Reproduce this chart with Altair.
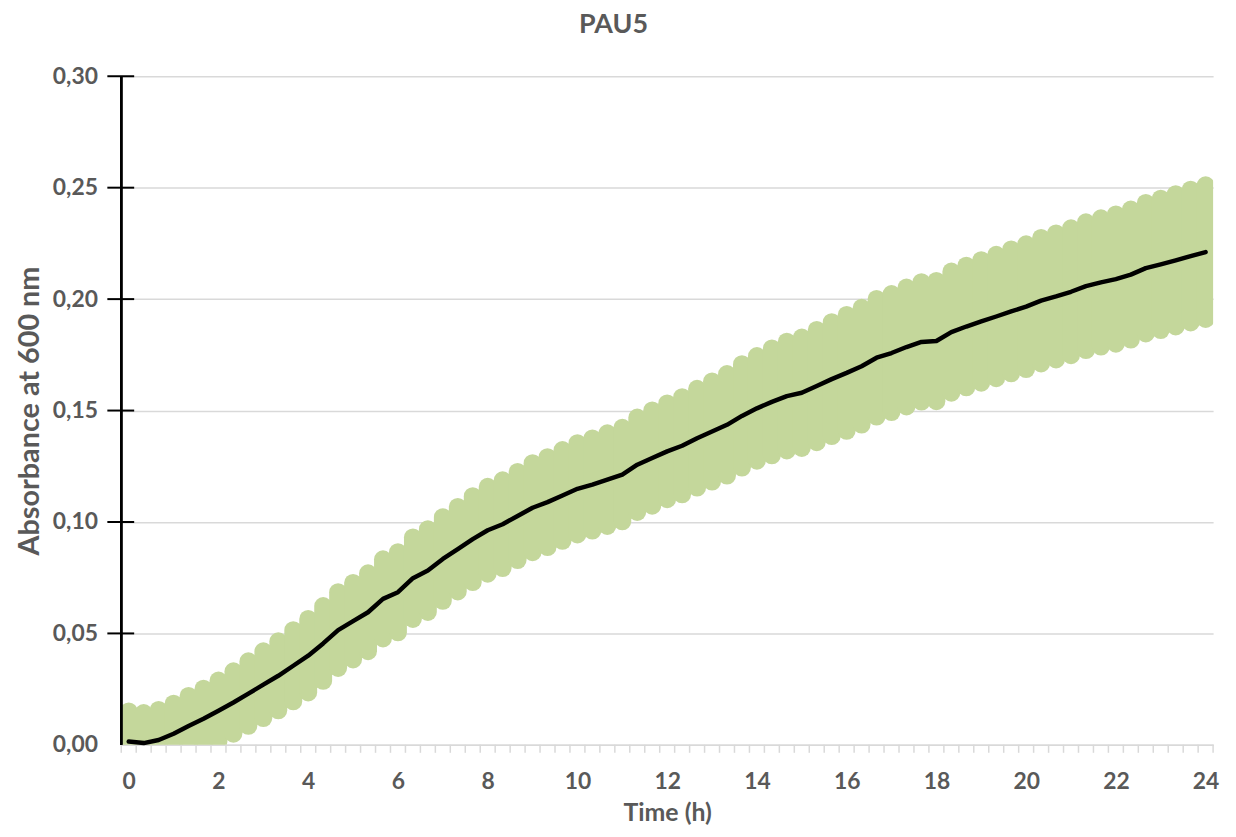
import altair as alt
import pandas as pd

# time points (minutes), 20-min interval readings
minutes = [0, 20, 40, 60, 80, 100, 120, 140, 160, 180, 200, 220, 240, 260, 280, 300,
           320, 340, 360, 380, 400, 420, 440, 460, 480, 500, 520, 540, 560, 580, 600,
           620, 640, 660, 680, 700, 720, 740, 760, 780, 800, 820, 840, 860, 880, 900,
           920, 940, 960, 980, 1000, 1020, 1040, 1060, 1080, 1100, 1120, 1140, 1160,
           1180, 1200, 1220, 1240, 1260, 1280, 1300, 1320, 1340, 1360, 1380, 1400,
           1420, 1440]

mean_abs = [0.0015, 0.0008, 0.0022, 0.0050, 0.0085, 0.0117, 0.0153, 0.0190, 0.0230,
            0.0270, 0.0310, 0.0355, 0.0400, 0.0455, 0.0515, 0.0555, 0.0595, 0.0655,
            0.0685, 0.0748, 0.0782, 0.0834, 0.0878, 0.0923, 0.0963, 0.0990, 0.1027,
            0.1064, 0.1089, 0.1119, 0.1149, 0.1168, 0.1190, 0.1213, 0.1257, 0.1287,
            0.1317, 0.1342, 0.1376, 0.1406, 0.1436, 0.1476, 0.1510, 0.1539, 0.1565,
            0.1580, 0.1610, 0.1641, 0.1669, 0.1699, 0.1737, 0.1758, 0.1785, 0.1808,
            0.1812, 0.1852, 0.1877, 0.1900, 0.1922, 0.1945, 0.1966, 0.1993, 0.2012,
            0.2033, 0.2058, 0.2075, 0.2090, 0.2110, 0.2139, 0.2156, 0.2174, 0.2193,
            0.2211]

sd_abs = [0.0135, 0.0135, 0.0135, 0.0135, 0.0135, 0.0135, 0.0136,
          0.0140, 0.0145, 0.0150, 0.0155, 0.0160, 0.0165,
          0.0168, 0.0170, 0.0172, 0.0175, 0.0178, 0.0180,
          0.0183, 0.0186, 0.0188, 0.0190, 0.0193, 0.0195,
          0.0197, 0.0198, 0.0200, 0.0202, 0.0204, 0.0205,
          0.0207, 0.0208, 0.0210, 0.0212, 0.0214, 0.0215,
          0.0218, 0.0222, 0.0225, 0.0228, 0.0232, 0.0235,
          0.0240, 0.0244, 0.0248, 0.0252, 0.0256, 0.0260,
          0.0262, 0.0264, 0.0265, 0.0267, 0.0268, 0.0270,
          0.0272, 0.0273, 0.0275, 0.0277, 0.0278, 0.0280,
          0.0282, 0.0283, 0.0285, 0.0287, 0.0288, 0.0290,
          0.0292, 0.0293, 0.0295, 0.0297, 0.0298, 0.0300]

y_ticks = [0.0, 0.05, 0.10, 0.15, 0.20, 0.25, 0.30]
y_tick_marks = [0.05, 0.10, 0.15, 0.20, 0.25, 0.30]
x_labels = [0, 2, 4, 6, 8, 10, 12, 14, 16, 18, 20, 22, 24]

df = pd.DataFrame({"t": [m / 60 for m in minutes], "mean": mean_abs, "sd": sd_abs})
df["lo"] = df["mean"] - df["sd"]
df["hi"] = df["mean"] + df["sd"]

# category boundaries (Excel category axis tick marks)
bounds = [(m - 10) / 60 for m in minutes] + [(minutes[-1] + 10) / 60]
bdf = pd.DataFrame({"b": bounds})
ydf = pd.DataFrame({"v": y_tick_marks})

W, H = 1099, 673
FONT = "Lato"
GREY = "#595959"

x_scale = alt.Scale(domain=[-1 / 6, 24 + 1 / 6], nice=False, zero=False)
y_scale = alt.Scale(domain=[0, 0.3], nice=False, zero=False)

band = alt.Chart(df).mark_rule(
    strokeWidth=18, strokeCap="round", color="#C4D79B", clip=True
).encode(
    x=alt.X("t:Q", scale=x_scale,
            axis=alt.Axis(values=x_labels, title="Time (h)", grid=False, ticks=False,
                          domainColor="#D9D9D9", domainWidth=1.5,
                          labelFont=FONT, labelFontSize=23, labelFontWeight="bold",
                          labelColor=GREY, labelPadding=26, labelFlush=False,
                          titleFont=FONT, titleFontSize=25, titleFontWeight="bold",
                          titleColor=GREY, titlePadding=7)),
    y=alt.Y("lo:Q", scale=y_scale,
            axis=alt.Axis(values=y_ticks, title="Absorbance at 600 nm",
                          labelExpr="replace(format(datum.value, '.2f'), '.', ',')",
                          grid=True, gridColor="#D9D9D9", gridWidth=1.5,
                          domain=False, ticks=False,
                          labelFont=FONT, labelFontSize=23, labelFontWeight="bold",
                          labelColor=GREY, labelPadding=24,
                          titleFont=FONT, titleFontSize=29, titleFontWeight="bold",
                          titleColor=GREY, titlePadding=8)),
    y2="hi:Q",
)

line = alt.Chart(df).mark_line(color="black", strokeWidth=4.5, strokeJoin="round",
                               strokeCap="round").encode(
    x=alt.X("t:Q", scale=x_scale),
    y=alt.Y("mean:Q", scale=y_scale),
)

yaxis_line = alt.Chart(ydf).mark_rule(color="black", strokeWidth=2).encode(
    x=alt.value(0), y=alt.value(0), y2=alt.value(H)
)

ytick_rules = alt.Chart(ydf).mark_rule(color="black", strokeWidth=2).encode(
    y=alt.Y("v:Q", scale=y_scale), x=alt.value(-14), x2=alt.value(13)
)

xtick_rules = alt.Chart(bdf).mark_rule(color="#D9D9D9", strokeWidth=1.5).encode(
    x=alt.X("b:Q", scale=x_scale), y=alt.value(H), y2=alt.value(H + 8)
)

chart = alt.layer(band, xtick_rules, line, yaxis_line, ytick_rules).properties(
    width=W, height=H,
    padding={"left": 114, "top": 66, "right": 15, "bottom": 82},
    autosize=alt.AutoSizeParams(type="none"),
    title=alt.TitleParams("PAU5", font=FONT, fontSize=27, fontWeight="bold",
                          color=GREY, dx=-54, offset=27, anchor="middle"),
).configure_view(stroke=None)

chart.save("out.html", embed_options={"renderer": "svg", "actions": False})
